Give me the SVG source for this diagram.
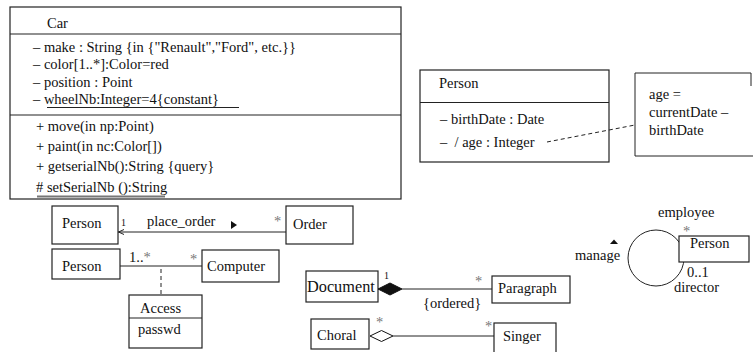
<svg xmlns="http://www.w3.org/2000/svg" width="753" height="352" viewBox="0 0 753 352">
<style>
text{font-family:"Liberation Serif","Times New Roman",serif;font-size:14.5px;fill:#111}
.box{fill:#fff;stroke:#222;stroke-width:1.2}
.sep{stroke:#222;stroke-width:1.2}
.ln{stroke:#222;stroke-width:1;fill:none}
.dash{stroke:#222;stroke-width:1;fill:none;stroke-dasharray:4 3}
.st{fill:#777}
.sm{font-size:10px}
</style>
<g id="car">
<rect class="box" x="10" y="7" width="391" height="192"/>
<line class="sep" x1="10" y1="34" x2="401" y2="34"/>
<line class="sep" x1="10" y1="115" x2="401" y2="115"/>
<text x="47" y="28">Car</text>
<text x="33" y="52">– make : String {in {"Renault","Ford", etc.}}</text>
<text x="33" y="69">– color[1..*]:Color=red</text>
<text x="33" y="87">– position : Point</text>
<text x="33" y="104">– wheelNb:Integer=4{constant}</text>
<line class="ln" x1="47" y1="107.5" x2="239" y2="107.5"/>
<text x="36" y="131">+ move(in np:Point)</text>
<text x="36" y="151">+ paint(in nc:Color[])</text>
<text x="36" y="171">+ getserialNb():String {query}</text>
<text x="36" y="192"># setSerialNb ():String</text>
<line x1="37" y1="196.5" x2="165" y2="196.5" stroke="#777" stroke-width="2"/>
</g>
<g id="person-age">
<rect class="box" x="420" y="70" width="189" height="92"/>
<line class="sep" x1="420" y1="102.5" x2="609" y2="102.5"/>
<text x="439" y="88">Person</text>
<text x="440" y="124">– birthDate : Date</text>
<text x="440" y="147" xml:space="preserve">–  / age : Integer</text>
</g>
<g id="note">
<path class="ln" d="M635,73 H751 V86 M635,73 V156 H754" stroke-width="1.2"/>
<text x="649" y="99">age =</text>
<text x="649" y="117">currentDate –</text>
<text x="649" y="135">birthDate</text>
</g>
<g id="person1">
<rect class="box" x="52" y="206" width="66" height="38"/>
<text x="62" y="228">Person</text>
</g>
<g id="order">
<rect class="box" x="286" y="206" width="67" height="38"/>
<text x="293" y="229">Order</text>
</g>
<g id="person2">
<rect class="box" x="52" y="249" width="68" height="30"/>
<text x="62" y="271">Person</text>
</g>
<g id="computer">
<rect class="box" x="202" y="250" width="77" height="32"/>
<text x="207" y="271">Computer</text>
</g>
<g id="access">
<rect class="box" x="129" y="295" width="73" height="53"/>
<line class="sep" x1="129" y1="318" x2="202" y2="318"/>
<text x="140" y="313">Access</text>
<text x="138" y="334">passwd</text>
</g>
<g id="document">
<rect class="box" x="306" y="271" width="72" height="31"/>
<text x="307" y="292" style="font-size:16.3px">Document</text>
</g>
<g id="paragraph">
<rect class="box" x="492" y="276" width="78" height="27"/>
<text x="498" y="293">Paragraph</text>
</g>
<g id="choral">
<rect class="box" x="311" y="319" width="58" height="30"/>
<text x="317" y="340">Choral</text>
</g>
<g id="singer">
<rect class="box" x="494" y="323" width="62" height="35"/>
<text x="503" y="341">Singer</text>
</g>
<g id="connectors">
<line class="ln" x1="286" y1="232" x2="118" y2="232"/>
<polyline class="ln" points="124,229.5 118.5,232 124,234.5"/>
<text class="sm" x="121" y="226">1</text>
<text x="147" y="226">place_order</text>
<polygon points="231,221 237,225 231,229" fill="#111"/>
<text class="st" x="274" y="226">*</text>
<line class="ln" x1="120" y1="266" x2="202" y2="266"/>
<text x="129" y="262">1..<tspan class="st">*</tspan></text>
<text class="st" x="190" y="264">*</text>
<line class="dash" x1="161" y1="269" x2="161" y2="295"/>
<line class="ln" x1="402" y1="289" x2="492" y2="289"/>
<polygon points="378,289 390,283 402,289 390,295" fill="#111" stroke="#111"/>
<text class="sm" x="384" y="279">1</text>
<text class="st" x="475" y="286">*</text>
<text x="423" y="308">{ordered}</text>
<line class="ln" x1="393" y1="336" x2="494" y2="336"/>
<polygon points="370,336 381.5,330.5 393,336 381.5,341.5" fill="#fff" stroke="#111"/>
<text class="st" x="376" y="327">*</text>
<text class="st" x="485" y="331">*</text>
<line class="dash" x1="547" y1="142" x2="635" y2="125"/>
<circle class="ln" cx="656" cy="258" r="28"/>
<text x="658" y="217">employee</text>
<text class="st" x="683" y="236">*</text>
<text x="687" y="277">0..1</text>
<text x="674" y="292">director</text>
<text x="575" y="260">manage</text>
<polygon points="610,244 614,239.5 618,244" fill="#111"/>
</g>
<g id="person-self">
<rect class="box" x="679" y="236" width="70" height="26"/>
<text x="690" y="248">Person</text>
</g>
</svg>
